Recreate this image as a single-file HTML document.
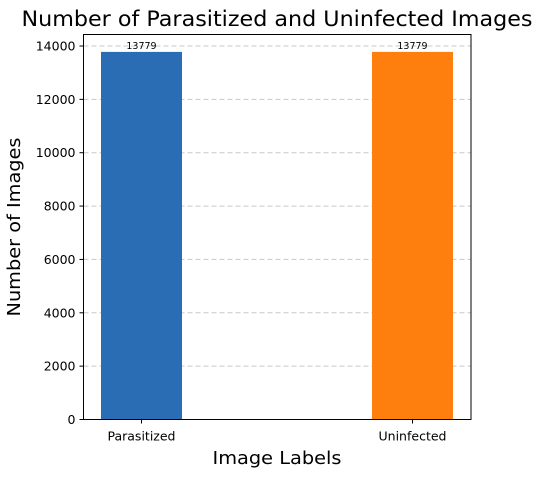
<!DOCTYPE html>
<html><head><meta charset="utf-8"><style>
body{margin:0;background:#fff;width:539px;height:475px;overflow:hidden}
text{font-family:"DejaVu Sans","Liberation Sans",sans-serif}
</style></head><body>
<svg id="chart" width="539" height="475" xmlns="http://www.w3.org/2000/svg">
<text x="277" y="26" font-size="21" text-anchor="middle" textLength="511" lengthAdjust="spacingAndGlyphs">Number of Parasitized and Uninfected Images</text>
<g id="grid"></g><g id="bars"></g><g id="axes"></g>
<text x="277" y="464" font-size="18" text-anchor="middle" textLength="129" lengthAdjust="spacingAndGlyphs">Image Labels</text>
<text transform="translate(20,227) rotate(-90)" font-size="18" text-anchor="middle" textLength="179" lengthAdjust="spacingAndGlyphs">Number of Images</text>
</svg>
<script>
const categories=["Parasitized","Uninfected"];
const counts=[13779,13779];
const colors=["#2a6db5","#ff7f0e"];
const yTicks=[0,2000,4000,6000,8000,10000,12000,14000];
const L=83.5,R=471,T=34.5,B=419.5,yMax=14000,yTop=46;
const NS="http://www.w3.org/2000/svg";
function y(v){return B-(v/yMax)*(B-yTop);}
function xc(i){return 141.5+i*(412.5-141.5);}
const bw=81;
function mk(p,tag,a){const e=document.createElementNS(NS,tag);for(const k in a)e.setAttribute(k,a[k]);p.appendChild(e);return e;}
const grid=document.getElementById('grid'),bars=document.getElementById('bars'),axes=document.getElementById('axes');
yTicks.forEach(t=>{
 const g=mk(grid,'line',{x1:L,x2:R,y1:y(t),y2:y(t),stroke:'#c8c8c8','stroke-dasharray':'5,3','stroke-width':1});
 
 
 mk(axes,'line',{x1:L-4,x2:L,y1:y(t),y2:y(t),stroke:'#000'});
 const tx=mk(axes,'text',{x:L-8,y:y(t)+4.5,'font-size':12.5,'text-anchor':'end'});tx.textContent=t;
 
 
});
categories.forEach((c,i)=>{
 const r=mk(bars,'rect',{x:xc(i)-bw/2,y:y(counts[i]),width:bw,height:B-y(counts[i]),fill:colors[i]});
 
 
 const v=mk(bars,'text',{x:xc(i),y:y(counts[i])-3,'font-size':9.5,'text-anchor':'middle'});v.textContent=counts[i];
 
 
 mk(axes,'line',{x1:xc(i),x2:xc(i),y1:B,y2:B+4,stroke:'#000'});
 const tl=mk(axes,'text',{x:xc(i),y:B+21,'font-size':12.5,'text-anchor':'middle'});tl.textContent=c;
 
 
});
const fr=mk(axes,'rect',{x:L,y:T,width:R-L,height:B-T,fill:'none',stroke:'#000','stroke-width':1});


</script>
</body></html>
